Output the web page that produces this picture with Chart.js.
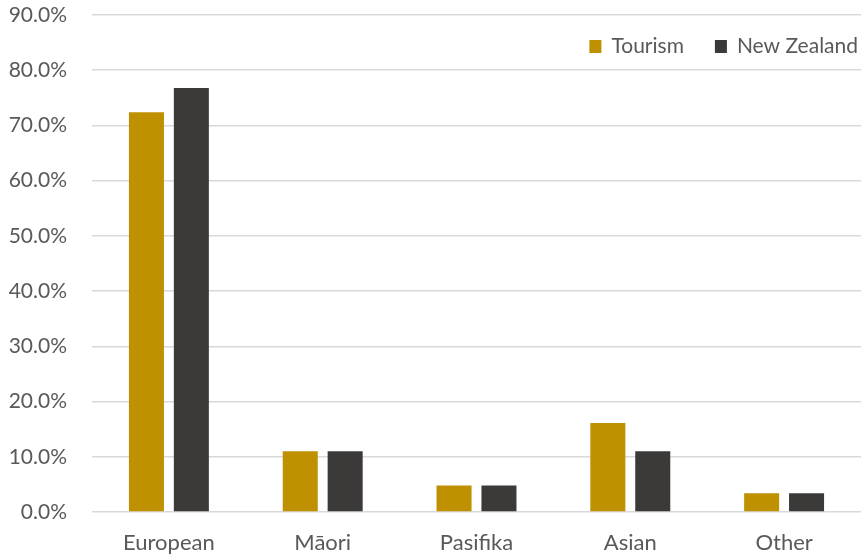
<!DOCTYPE html>
<html>
<head>
<meta charset="utf-8">
<script src="https://cdn.jsdelivr.net/npm/chart.js@4.4.1/dist/chart.umd.min.js"></script>
<style>
  html, body { margin: 0; padding: 0; background: #fff; }
  #wrap { width: 861px; height: 555px; }
</style>
</head>
<body>
<div id="wrap"><canvas id="c" width="861" height="555"></canvas></div>
<script>
// Share of workforce by ethnicity (%)
const categories = ['European', 'Māori', 'Pasifika', 'Asian', 'Other'];
const tourism = [72.4, 11.0, 4.8, 16.1, 3.4];
const newZealand = [76.8, 11.0, 4.8, 11.0, 3.4];
const yTicks = [0, 10, 20, 30, 40, 50, 60, 70, 80, 90];

const FONT = 'Lato, "Open Sans", sans-serif';
const TEXT = '#595959';

// Legend drawn inside the plot area, top right, in one row
const insideLegend = {
  id: 'insideLegend',
  afterDraw(chart) {
    const ctx = chart.ctx;
    const area = chart.chartArea;
    const box = 12, boxGap = 10, itemGap = 31;
    ctx.save();
    ctx.font = '21px ' + FONT;
    ctx.textBaseline = 'alphabetic';
    const items = chart.data.datasets.map(ds => ({
      text: ds.label, color: ds.backgroundColor, w: ctx.measureText(ds.label).width
    }));
    let total = 0;
    items.forEach((it, i) => { total += box + boxGap + it.w + (i ? itemGap : 0); });
    let x = area.right - 3 - total;
    const baseline = area.top + 38;
    items.forEach((it, i) => {
      if (i) x += itemGap;
      ctx.fillStyle = it.color;
      ctx.fillRect(x, baseline - 13, box, 13);
      x += box + boxGap;
      ctx.fillStyle = TEXT;
      ctx.fillText(it.text, x, baseline);
      x += it.w;
    });
    ctx.restore();
  }
};

new Chart(document.getElementById('c'), {
  type: 'bar',
  data: {
    labels: categories,
    datasets: [
      { label: 'Tourism', data: tourism, backgroundColor: '#BF9000',
        categoryPercentage: 0.584, barPercentage: 0.78 },
      { label: 'New Zealand', data: newZealand, backgroundColor: '#3B3A38',
        categoryPercentage: 0.584, barPercentage: 0.78 }
    ]
  },
  plugins: [insideLegend],
  options: {
    responsive: false,
    animation: false,
    layout: { padding: { top: 15, right: 0, bottom: 0, left: 0 } },
    plugins: {
      tooltip: { enabled: false },
      legend: { display: false },
      title: { display: false }
    },
    scales: {
      x: {
        grid: { display: false, drawTicks: false },
        border: { display: false },
        ticks: { font: { family: FONT, size: 22 }, color: TEXT, padding: 18 },
        afterFit(s) { s.height = 43; s.paddingLeft = 0; s.paddingRight = 0; }
      },
      y: {
        min: 0,
        max: 90,
        afterBuildTicks(s) { s.ticks = yTicks.map(v => ({ value: v })); },
        grid: { color: '#D9D9D9', lineWidth: 1.5, drawTicks: false },
        border: { display: false },
        ticks: {
          font: { family: FONT, size: 21 },
          color: TEXT,
          padding: 25,
          callback: v => v.toFixed(1) + '%'
        },
        afterFit(s) { s.width = 92; s.paddingTop = 0; s.paddingBottom = 0; }
      }
    }
  }
});
</script>
</body>
</html>
